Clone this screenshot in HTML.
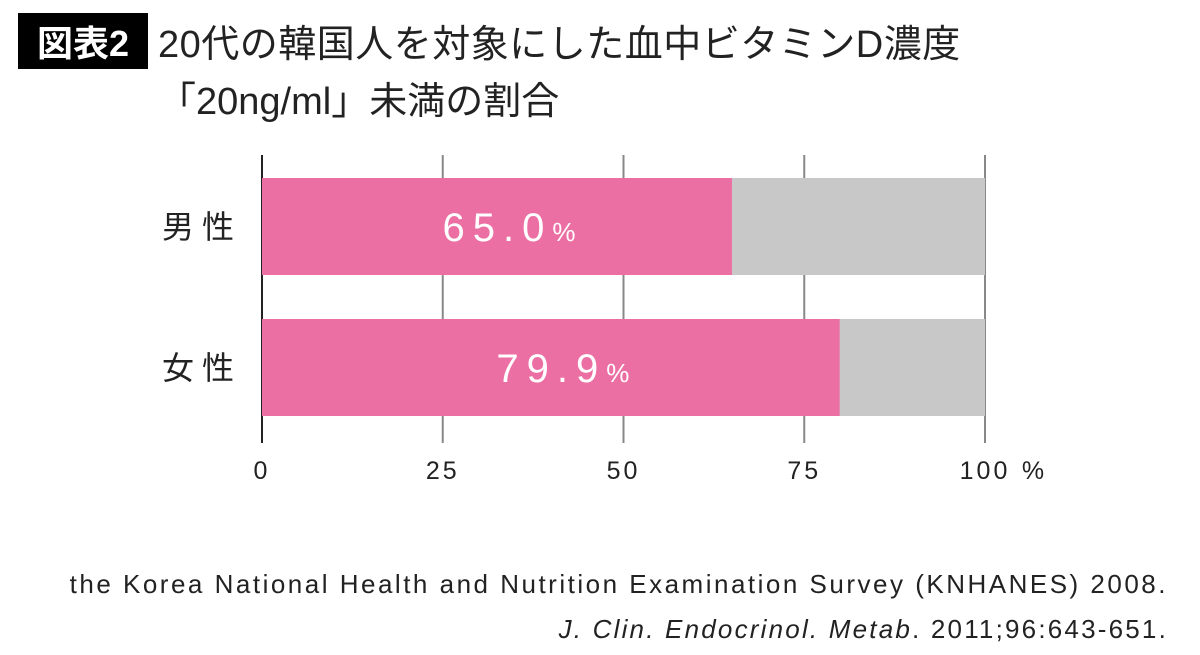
<!DOCTYPE html>
<html><head><meta charset="utf-8"><style>
body{margin:0;background:#fff;width:1200px;height:650px;overflow:hidden}
svg text{font-family:"Liberation Sans","Noto Sans CJK JP",sans-serif}
</style></head><body>
<svg width="1200" height="650">
<rect x="18" y="13" width="130" height="56" fill="#000"/>
<text x="83" y="56" font-size="36" font-weight="bold" fill="#fff" text-anchor="middle">図表2</text>
<text x="158" y="57" font-size="38" letter-spacing="0.5" fill="#222">20代の韓国人を対象にした血中ビタミンD濃度</text>
<text x="158" y="114" font-size="38" fill="#222">「20ng/ml」未満の割合</text>
<g id="grid"></g>
<g id="bars"></g>
<g id="ticks"></g>
<text x="1033" y="479" font-size="25" fill="#222" text-anchor="middle">%</text>
<text x="1168" y="593" font-size="26" letter-spacing="2.5" fill="#222" text-anchor="end">the Korea National Health and Nutrition Examination Survey (KNHANES) 2008.</text>
<text x="1168" y="638" font-size="26" letter-spacing="2.2" fill="#222" text-anchor="end"><tspan font-style="italic">J. Clin. Endocrinol. Metab</tspan>. 2011;96:643-651.</text>
</svg>
<script>
const categories=["男性","女性"];
const values=[65.0,79.9];
const labels=["65.0","79.9"];
const ticks=[0,25,50,75,100];
const NS="http://www.w3.org/2000/svg";
const x=v=>262+v*7.23;
const rowY=i=>178+i*141;
function mk(t,a,p){const e=document.createElementNS(NS,t);for(const k in a)e.setAttribute(k,a[k]);p.appendChild(e);return e;}
const grid=document.getElementById('grid'),bars=document.getElementById('bars'),tk=document.getElementById('ticks');
ticks.forEach(t=>{
 const l=mk('line',{x1:x(t),x2:x(t),y1:155,y2:443,stroke:t===0?'#222':'#888','stroke-width':2},grid);
 
 
 const tx=mk('text',{x:x(t),y:479,'font-size':25,fill:'#222','text-anchor':'middle','letter-spacing':3},tk);
 tx.textContent=t;
 
 
});
categories.forEach((c,i)=>{
 const y=rowY(i);
 const bg=mk('rect',{x:x(0),y:y,width:x(100)-x(0),height:97,fill:'#c8c8c8'},bars);
 
 
 const b=mk('rect',{x:x(0),y:y,width:x(values[i])-x(0),height:97,fill:'#ec6fa4'},bars);
 
 
 const lt=mk('text',{x:x(values[i])/2+x(0)/2+16,y:y+63,'font-size':40,fill:'#fff','text-anchor':'middle','letter-spacing':8},bars);
 lt.innerHTML=labels[i]+'<tspan font-size="26">%</tspan>';
 
 
 const ct=mk('text',{x:242,y:y+60,'font-size':32,fill:'#222','text-anchor':'end','letter-spacing':8},bars);
 ct.textContent=c;
 
 
});
</script>
</body></html>
